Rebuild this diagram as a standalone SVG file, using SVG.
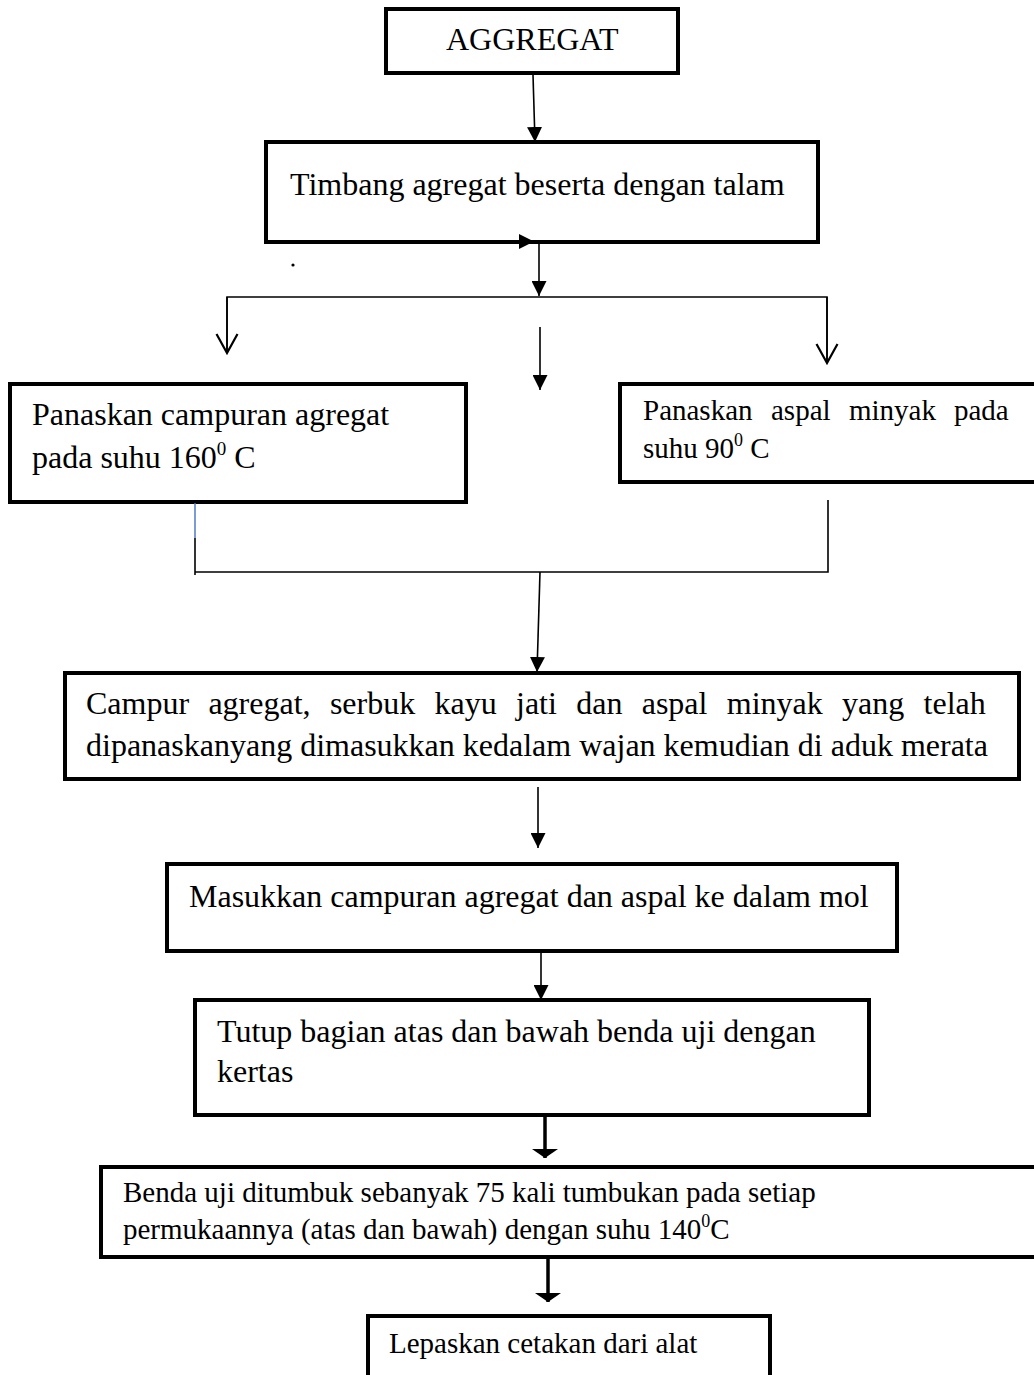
<svg xmlns="http://www.w3.org/2000/svg" width="1034" height="1375" viewBox="0 0 1034 1375">
<style>
.box{fill:#fff;stroke:#000;stroke-width:4}
.t{font-family:"Liberation Serif","Times New Roman",serif;fill:#000}
.t32{font-size:32px}
.t29{font-size:29px}
.ln{stroke:#000;stroke-width:1.6;fill:none}
.thk{stroke:#000;stroke-width:3.5;fill:none}
</style>
<defs>
<marker id="fa" markerUnits="userSpaceOnUse" viewBox="0 0 15 15" refX="15" refY="7.5" markerWidth="15" markerHeight="15" orient="auto">
<path d="M0,0 L15,7.5 L0,15 z" fill="#000"/>
</marker>
<marker id="oa" markerUnits="userSpaceOnUse" viewBox="-1 -1 22 24" refX="19" refY="10.5" markerWidth="22" markerHeight="24" orient="auto">
<path d="M0,0 L19,10.5 L0,21" fill="none" stroke="#000" stroke-width="2.2"/>
</marker>
<marker id="wa" markerUnits="userSpaceOnUse" viewBox="0 0 9 26" refX="9" refY="13" markerWidth="9" markerHeight="26" orient="auto">
<path d="M0,0 L9,13 L0,26 z" fill="#000"/>
</marker>
</defs>

<g id="n-aggregat">
<rect class="box" x="386" y="9" width="292" height="64"/>
<text class="t t32" x="446" y="50">AGGREGAT</text>
</g>

<g id="n-timbang">
<rect class="box" x="266" y="142" width="552" height="100"/>
<text class="t t32" x="290" y="195">Timbang agregat beserta dengan talam</text>
</g>

<g id="n-panaskan-agregat">
<rect class="box" x="10" y="384" width="456" height="118"/>
<text class="t t32" x="32" y="425">Panaskan campuran agregat</text>
<text class="t t32" x="32" y="468">pada suhu 160<tspan dy="-13" font-size="19">0</tspan><tspan dy="13"> C</tspan></text>
</g>

<g id="n-panaskan-aspal">
<rect class="box" x="620" y="384" width="420" height="98"/>
<text class="t t29" y="420"><tspan x="643">Panaskan</tspan><tspan x="771">aspal</tspan><tspan x="849">minyak</tspan><tspan x="954">pada</tspan></text>
<text class="t t29" x="643" y="458">suhu 90<tspan dy="-12" font-size="18">0</tspan><tspan dy="12"> C</tspan></text>
</g>

<g id="n-campur">
<rect class="box" x="65" y="673" width="954" height="106"/>
<text class="t t32" y="714"><tspan x="86">Campur</tspan><tspan x="208.4">agregat,</tspan><tspan x="329.9">serbuk</tspan><tspan x="434.5">kayu</tspan><tspan x="516">jati</tspan><tspan x="576.2">dan</tspan><tspan x="641.7">aspal</tspan><tspan x="726.8">minyak</tspan><tspan x="842.1">yang</tspan><tspan x="923.6">telah</tspan></text>
<text class="t t32" x="86" y="756">dipanaskanyang dimasukkan kedalam wajan kemudian di aduk merata</text>
</g>

<g id="n-masukkan">
<rect class="box" x="167" y="864" width="730" height="87"/>
<text class="t t32" x="189" y="907">Masukkan campuran agregat dan aspal ke dalam mol</text>
</g>

<g id="n-tutup">
<rect class="box" x="195" y="1000" width="674" height="115"/>
<text class="t t32" x="217" y="1042">Tutup bagian atas dan bawah benda uji dengan</text>
<text class="t t32" x="217" y="1082">kertas</text>
</g>

<g id="n-benda">
<rect class="box" x="101" y="1167" width="945" height="90"/>
<text class="t t29" x="123" y="1202">Benda uji ditumbuk sebanyak 75 kali tumbukan pada setiap</text>
<text class="t t29" x="123" y="1239">permukaannya (atas dan bawah) dengan suhu 140<tspan dy="-12" font-size="18">0</tspan><tspan dy="12">C</tspan></text>
</g>

<g id="n-lepaskan">
<rect class="box" x="368" y="1316" width="402" height="80"/>
<text class="t t29" x="389" y="1353">Lepaskan cetakan dari alat</text>
</g>

<g id="connectors">
<line class="ln" x1="533" y1="75" x2="535" y2="142" marker-end="url(#fa)"/>
<polygon points="519,234 534,241.5 519,249" fill="#000"/>
<line class="ln" x1="539" y1="243" x2="539" y2="296" marker-end="url(#fa)"/>
<circle cx="293" cy="265" r="1.6" fill="#000"/>
<polyline class="ln" points="227,353 227,297 827,297 827,363"/>
<line class="ln" x1="227" y1="297" x2="227" y2="353" marker-end="url(#oa)"/>
<line class="ln" x1="827" y1="297" x2="827" y2="363" marker-end="url(#oa)"/>
<line class="ln" x1="540" y1="327" x2="540" y2="390" marker-end="url(#fa)"/>
<line x1="195" y1="503" x2="195" y2="538" stroke="#4472C4" stroke-width="1.4"/>
<polyline class="ln" points="195,538 195,575"/>
<polyline class="ln" points="195,572 828,572 828,500"/>
<line class="ln" x1="540" y1="572" x2="537" y2="672" marker-end="url(#fa)"/>
<line class="ln" x1="538" y1="787" x2="538" y2="848" marker-end="url(#fa)"/>
<line class="ln" x1="541" y1="953" x2="541" y2="1000" marker-end="url(#fa)"/>
<line class="thk" x1="545" y1="1117" x2="545" y2="1158" marker-end="url(#wa)"/>
<line class="thk" x1="548" y1="1259" x2="548" y2="1302" marker-end="url(#wa)"/>
</g>
</svg>
